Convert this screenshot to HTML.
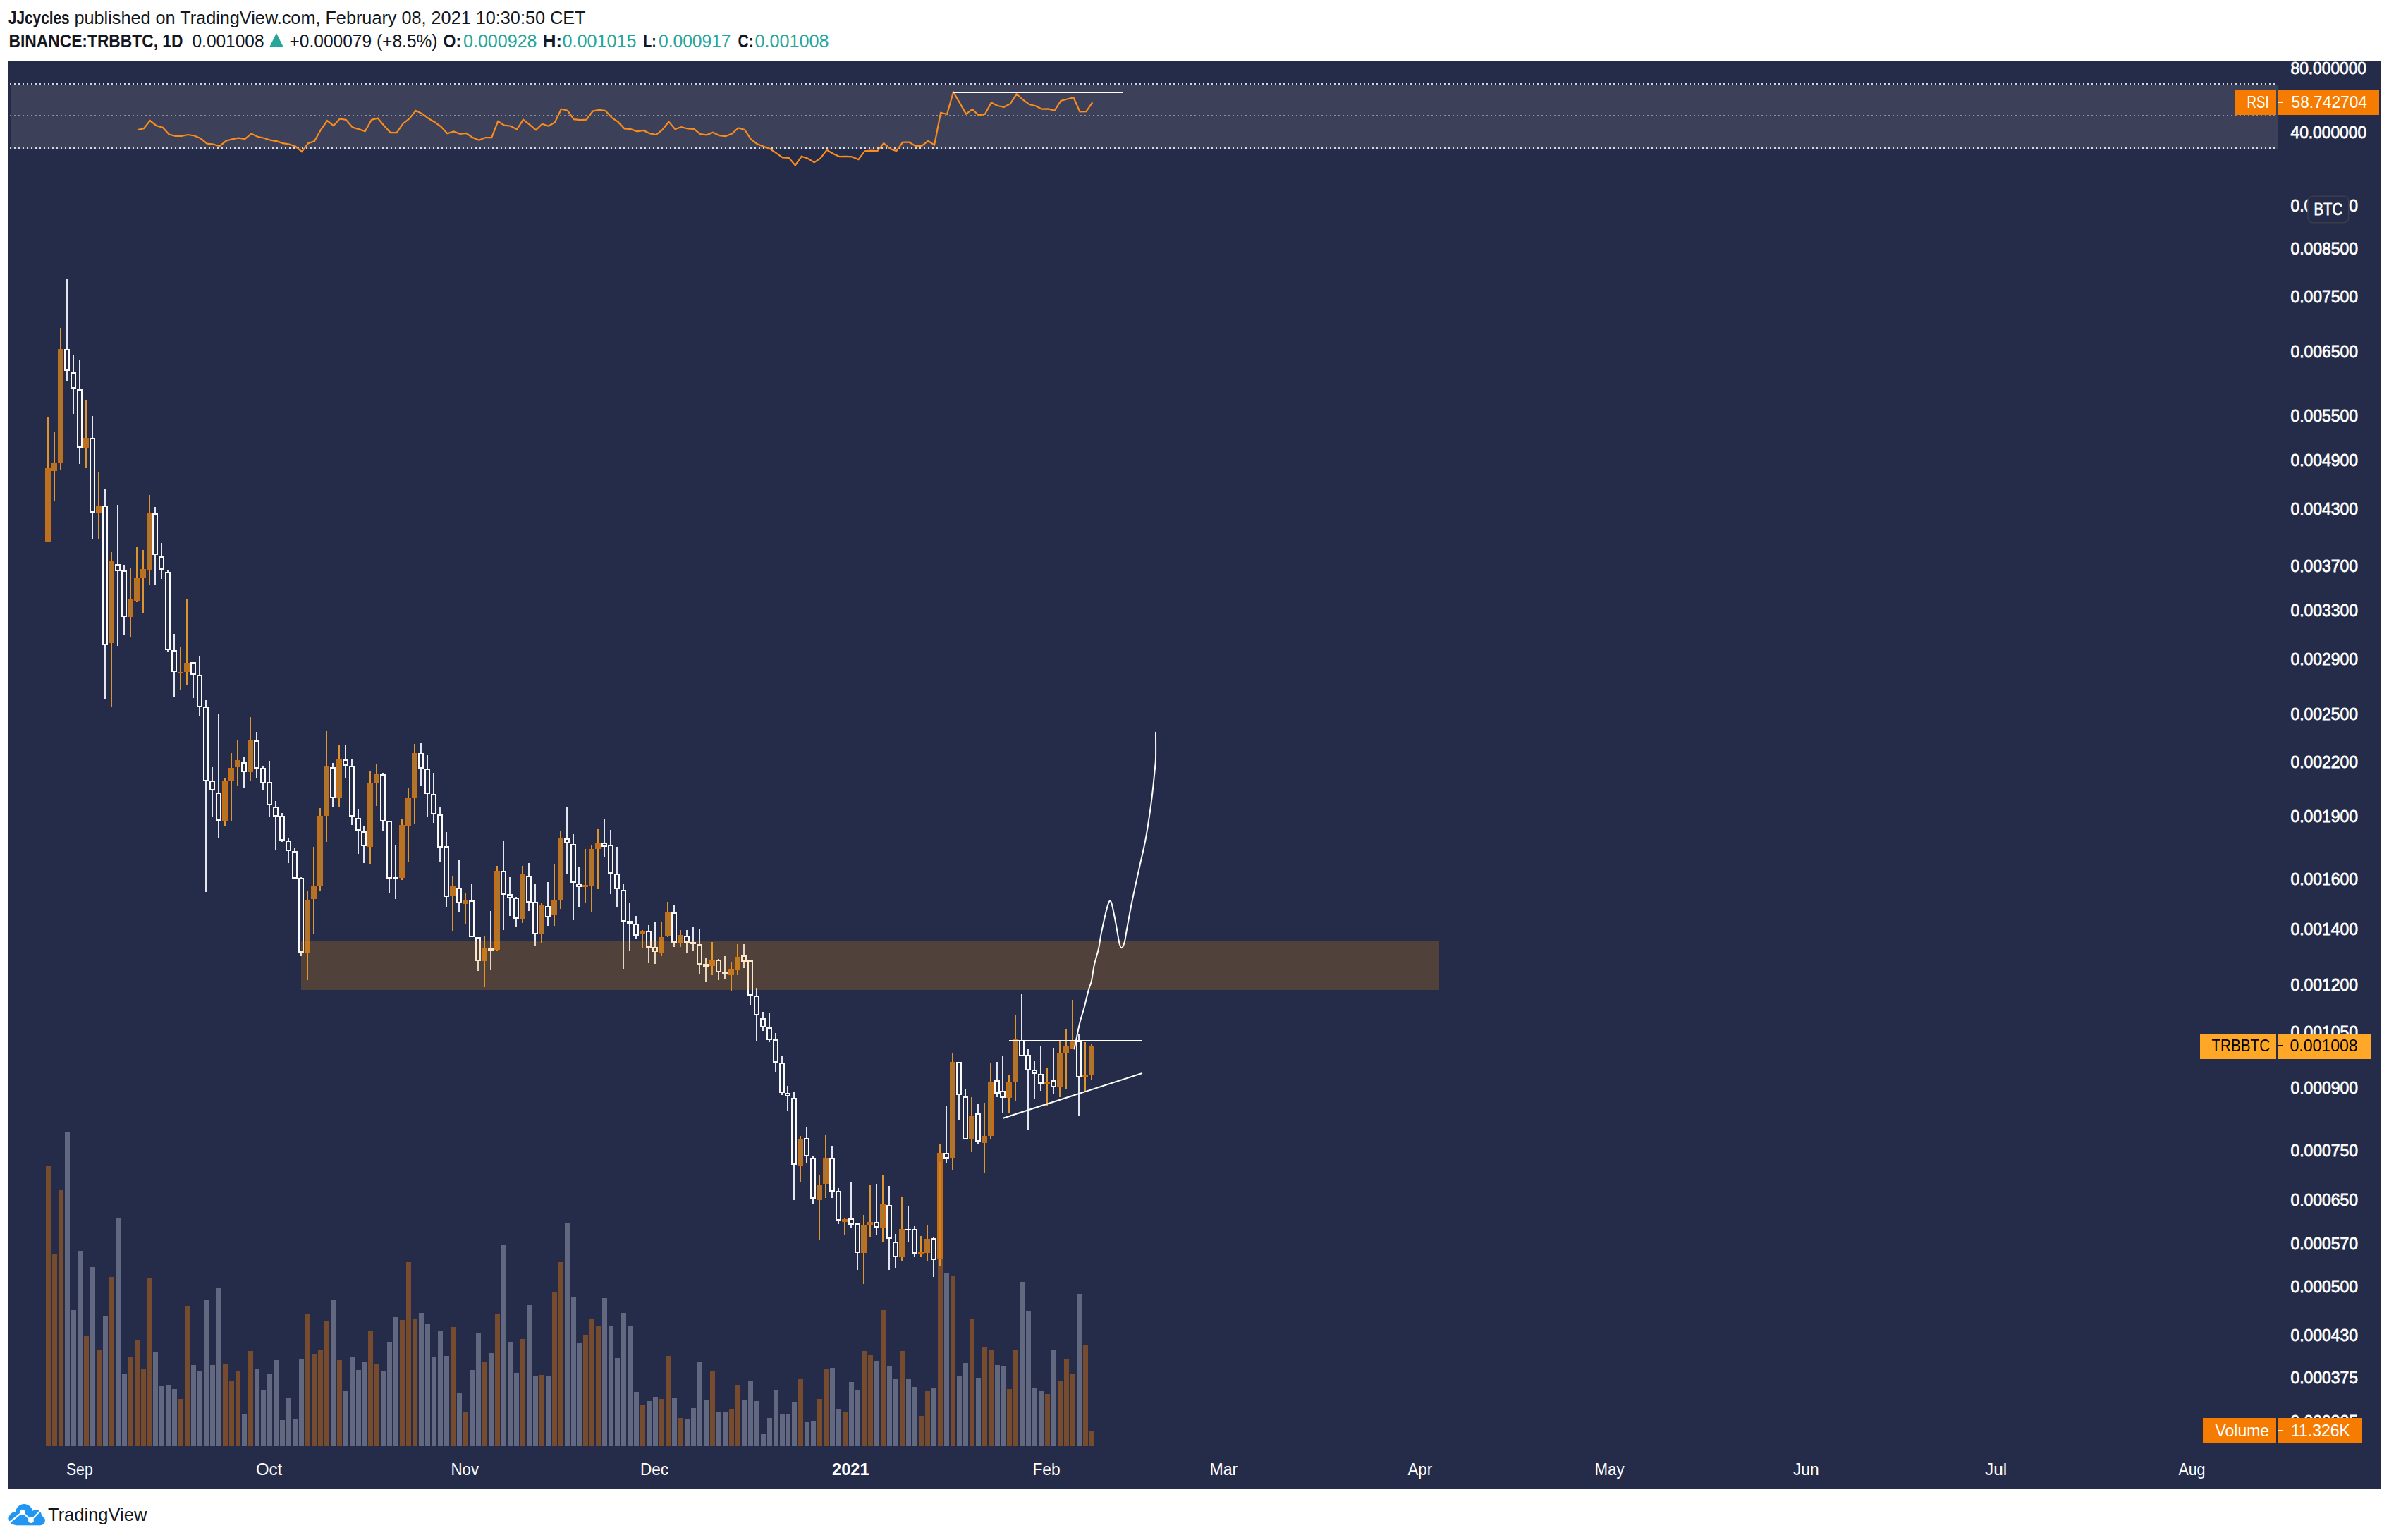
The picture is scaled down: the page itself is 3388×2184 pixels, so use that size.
<!DOCTYPE html>
<html><head><meta charset="utf-8"><title>BINANCE:TRBBTC 1D chart - JJcycles on TradingView</title>
<style>
html,body{margin:0;padding:0;background:#fff;}
body{width:3388px;height:2184px;position:relative;overflow:hidden;}
</style></head><body>
<svg width="3388" height="2184" viewBox="0 0 3388 2184" style="position:absolute;left:0;top:0"><rect x="12" y="86" width="3364" height="2026" fill="#252c49"/><rect x="15" y="120" width="3215" height="91" fill="#3c4059"/><line x1="14" y1="119" x2="3230" y2="119" stroke="#d6d8df" stroke-width="2" stroke-dasharray="2 4"/><line x1="14" y1="164" x2="3230" y2="164" stroke="#8d90a0" stroke-width="2" stroke-dasharray="2 4"/><line x1="14" y1="210" x2="3230" y2="210" stroke="#d6d8df" stroke-width="2" stroke-dasharray="2 4"/><polyline points="194.9,184.0 203.9,182.3 212.8,171.1 221.8,178.2 230.8,180.8 239.7,190.5 248.7,192.8 257.7,192.8 266.6,191.0 275.6,192.5 284.6,196.3 293.6,203.6 302.5,204.5 311.5,207.2 320.5,199.8 329.4,197.2 338.4,195.7 347.4,197.2 356.3,189.6 365.3,193.7 374.3,195.7 383.3,198.7 392.2,200.1 401.2,203.1 410.2,204.5 419.1,207.7 428.1,215.1 437.1,203.1 446.0,200.1 455.0,184.0 464.0,171.1 473.0,178.2 481.9,168.5 490.9,170.0 499.9,180.5 508.8,183.1 517.8,186.1 526.8,170.0 535.7,167.6 544.7,178.2 553.7,188.1 562.6,188.1 571.6,175.2 580.6,168.2 589.6,156.8 598.5,161.2 607.5,167.9 616.5,173.2 625.4,179.6 634.4,189.3 643.4,186.4 652.4,189.9 661.3,189.0 670.3,195.1 679.3,198.7 688.2,195.1 697.2,195.1 706.2,172.0 715.1,177.6 724.1,178.7 733.1,183.4 742.0,169.7 751.0,176.7 760.0,184.3 769.0,175.8 777.9,178.7 786.9,173.5 795.9,154.7 804.8,156.8 813.8,169.1 822.8,170.2 831.8,169.7 840.7,157.6 849.7,155.9 858.7,157.1 867.6,167.0 876.6,172.9 885.6,182.5 894.5,183.1 903.5,186.4 912.5,184.9 921.5,189.3 930.4,191.0 939.4,184.0 948.4,172.6 957.3,183.1 966.3,180.2 975.3,182.5 984.2,182.8 993.2,190.2 1002.2,191.3 1011.1,187.8 1020.1,192.2 1029.1,193.1 1038.1,189.6 1047.0,181.4 1056.0,184.0 1065.0,197.5 1073.9,204.2 1082.9,207.7 1091.9,211.0 1100.9,217.1 1109.8,223.3 1118.8,223.9 1127.8,234.4 1136.7,221.8 1145.7,224.7 1154.7,230.3 1163.6,224.4 1172.6,212.7 1181.6,218.0 1190.5,222.1 1199.5,221.8 1208.5,222.4 1217.5,226.2 1226.4,214.2 1235.4,213.6 1244.4,214.2 1253.3,203.1 1262.3,211.0 1271.3,214.2 1280.2,201.6 1289.2,201.6 1298.2,206.9 1307.2,206.9 1316.1,199.8 1325.1,205.4 1334.1,159.8 1343.0,162.0 1352.0,130.5 1361.0,145.9 1370.0,161.6 1378.9,155.0 1387.9,163.5 1396.9,161.7 1405.8,145.5 1414.8,150.0 1423.8,151.8 1432.7,147.1 1441.7,133.5 1450.7,141.5 1459.7,148.1 1468.6,150.3 1477.6,154.7 1486.6,154.4 1495.5,156.8 1504.5,143.0 1513.5,140.5 1522.4,138.2 1531.4,158.4 1540.4,158.1 1549.4,145.2" fill="none" stroke="#fa8c1c" stroke-width="2.2" stroke-linejoin="miter" stroke-miterlimit="3"/><line x1="1351" y1="131" x2="1593" y2="131" stroke="#ffffff" stroke-width="2"/><g shape-rendering="crispEdges"><rect x="65" y="1654" width="7" height="397" fill="#764b2e"/><rect x="74" y="1778" width="7" height="273" fill="#764b2e"/><rect x="83" y="1688" width="7" height="363" fill="#764b2e"/><rect x="92" y="1605" width="7" height="446" fill="#626880"/><rect x="101" y="1858" width="7" height="193" fill="#626880"/><rect x="110" y="1774" width="7" height="277" fill="#626880"/><rect x="119" y="1894" width="7" height="157" fill="#764b2e"/><rect x="128" y="1797" width="7" height="254" fill="#626880"/><rect x="137" y="1914" width="7" height="137" fill="#764b2e"/><rect x="146" y="1867" width="7" height="184" fill="#626880"/><rect x="155" y="1811" width="7" height="240" fill="#764b2e"/><rect x="164" y="1728" width="7" height="323" fill="#626880"/><rect x="173" y="1948" width="7" height="103" fill="#626880"/><rect x="182" y="1924" width="7" height="127" fill="#764b2e"/><rect x="191" y="1901" width="7" height="150" fill="#764b2e"/><rect x="200" y="1941" width="7" height="110" fill="#764b2e"/><rect x="209" y="1813" width="7" height="238" fill="#764b2e"/><rect x="217" y="1918" width="7" height="133" fill="#626880"/><rect x="226" y="1966" width="7" height="85" fill="#626880"/><rect x="235" y="1964" width="7" height="87" fill="#626880"/><rect x="244" y="1970" width="7" height="81" fill="#626880"/><rect x="253" y="1984" width="7" height="67" fill="#764b2e"/><rect x="262" y="1852" width="7" height="199" fill="#764b2e"/><rect x="271" y="1936" width="7" height="115" fill="#626880"/><rect x="280" y="1945" width="7" height="106" fill="#626880"/><rect x="289" y="1844" width="7" height="207" fill="#626880"/><rect x="298" y="1936" width="7" height="115" fill="#626880"/><rect x="307" y="1827" width="7" height="224" fill="#626880"/><rect x="316" y="1934" width="7" height="117" fill="#764b2e"/><rect x="325" y="1958" width="7" height="93" fill="#764b2e"/><rect x="334" y="1945" width="7" height="106" fill="#764b2e"/><rect x="343" y="2006" width="7" height="45" fill="#626880"/><rect x="352" y="1916" width="7" height="135" fill="#764b2e"/><rect x="361" y="1942" width="7" height="109" fill="#626880"/><rect x="370" y="1971" width="7" height="80" fill="#626880"/><rect x="379" y="1949" width="7" height="102" fill="#626880"/><rect x="388" y="1929" width="7" height="122" fill="#626880"/><rect x="397" y="2014" width="7" height="37" fill="#626880"/><rect x="406" y="1982" width="7" height="69" fill="#626880"/><rect x="415" y="2012" width="7" height="39" fill="#626880"/><rect x="424" y="1928" width="7" height="123" fill="#626880"/><rect x="433" y="1863" width="7" height="188" fill="#764b2e"/><rect x="442" y="1920" width="7" height="131" fill="#764b2e"/><rect x="451" y="1915" width="7" height="136" fill="#764b2e"/><rect x="460" y="1874" width="7" height="177" fill="#764b2e"/><rect x="469" y="1844" width="7" height="207" fill="#626880"/><rect x="478" y="1929" width="7" height="122" fill="#764b2e"/><rect x="487" y="1973" width="7" height="78" fill="#626880"/><rect x="496" y="1924" width="7" height="127" fill="#626880"/><rect x="505" y="1943" width="7" height="108" fill="#626880"/><rect x="513" y="1931" width="7" height="120" fill="#626880"/><rect x="522" y="1887" width="7" height="164" fill="#764b2e"/><rect x="531" y="1935" width="7" height="116" fill="#764b2e"/><rect x="540" y="1945" width="7" height="106" fill="#626880"/><rect x="549" y="1903" width="7" height="148" fill="#626880"/><rect x="558" y="1868" width="7" height="183" fill="#626880"/><rect x="567" y="1872" width="7" height="179" fill="#764b2e"/><rect x="576" y="1790" width="7" height="261" fill="#764b2e"/><rect x="585" y="1870" width="7" height="181" fill="#764b2e"/><rect x="594" y="1862" width="7" height="189" fill="#626880"/><rect x="603" y="1878" width="7" height="173" fill="#626880"/><rect x="612" y="1925" width="7" height="126" fill="#626880"/><rect x="621" y="1888" width="7" height="163" fill="#626880"/><rect x="630" y="1923" width="7" height="128" fill="#626880"/><rect x="639" y="1882" width="7" height="169" fill="#764b2e"/><rect x="648" y="1975" width="7" height="76" fill="#626880"/><rect x="657" y="2002" width="7" height="49" fill="#764b2e"/><rect x="666" y="1943" width="7" height="108" fill="#626880"/><rect x="675" y="1890" width="7" height="161" fill="#626880"/><rect x="684" y="1932" width="7" height="119" fill="#764b2e"/><rect x="693" y="1919" width="7" height="132" fill="#626880"/><rect x="702" y="1864" width="7" height="187" fill="#764b2e"/><rect x="711" y="1766" width="7" height="285" fill="#626880"/><rect x="720" y="1903" width="7" height="148" fill="#626880"/><rect x="729" y="1947" width="7" height="104" fill="#626880"/><rect x="738" y="1899" width="7" height="152" fill="#764b2e"/><rect x="747" y="1851" width="7" height="200" fill="#626880"/><rect x="756" y="1951" width="7" height="100" fill="#626880"/><rect x="765" y="1950" width="7" height="101" fill="#764b2e"/><rect x="774" y="1952" width="7" height="99" fill="#626880"/><rect x="783" y="1832" width="7" height="219" fill="#764b2e"/><rect x="792" y="1790" width="7" height="261" fill="#764b2e"/><rect x="801" y="1735" width="7" height="316" fill="#626880"/><rect x="810" y="1839" width="7" height="212" fill="#626880"/><rect x="818" y="1905" width="7" height="146" fill="#626880"/><rect x="827" y="1893" width="7" height="158" fill="#764b2e"/><rect x="836" y="1870" width="7" height="181" fill="#764b2e"/><rect x="845" y="1881" width="7" height="170" fill="#764b2e"/><rect x="854" y="1841" width="7" height="210" fill="#626880"/><rect x="863" y="1880" width="7" height="171" fill="#626880"/><rect x="872" y="1926" width="7" height="125" fill="#626880"/><rect x="881" y="1862" width="7" height="189" fill="#626880"/><rect x="890" y="1880" width="7" height="171" fill="#626880"/><rect x="899" y="1974" width="7" height="77" fill="#626880"/><rect x="908" y="1992" width="7" height="59" fill="#764b2e"/><rect x="917" y="1987" width="7" height="64" fill="#626880"/><rect x="926" y="1981" width="7" height="70" fill="#626880"/><rect x="935" y="1984" width="7" height="67" fill="#764b2e"/><rect x="944" y="1923" width="7" height="128" fill="#764b2e"/><rect x="953" y="1982" width="7" height="69" fill="#626880"/><rect x="962" y="2011" width="7" height="40" fill="#764b2e"/><rect x="971" y="2012" width="7" height="39" fill="#626880"/><rect x="980" y="1997" width="7" height="54" fill="#626880"/><rect x="989" y="1932" width="7" height="119" fill="#626880"/><rect x="998" y="1985" width="7" height="66" fill="#626880"/><rect x="1007" y="1944" width="7" height="107" fill="#764b2e"/><rect x="1016" y="2002" width="7" height="49" fill="#626880"/><rect x="1025" y="2002" width="7" height="49" fill="#626880"/><rect x="1034" y="1998" width="7" height="53" fill="#764b2e"/><rect x="1043" y="1964" width="7" height="87" fill="#764b2e"/><rect x="1052" y="1985" width="7" height="66" fill="#626880"/><rect x="1061" y="1958" width="7" height="93" fill="#626880"/><rect x="1070" y="1987" width="7" height="64" fill="#626880"/><rect x="1079" y="2034" width="7" height="17" fill="#626880"/><rect x="1088" y="2011" width="7" height="40" fill="#626880"/><rect x="1097" y="1971" width="7" height="80" fill="#626880"/><rect x="1106" y="2006" width="7" height="45" fill="#626880"/><rect x="1114" y="2005" width="7" height="46" fill="#626880"/><rect x="1123" y="1989" width="7" height="62" fill="#626880"/><rect x="1132" y="1956" width="7" height="95" fill="#764b2e"/><rect x="1141" y="2016" width="7" height="35" fill="#626880"/><rect x="1150" y="2015" width="7" height="36" fill="#626880"/><rect x="1159" y="1984" width="7" height="67" fill="#764b2e"/><rect x="1168" y="1942" width="7" height="109" fill="#764b2e"/><rect x="1177" y="1940" width="7" height="111" fill="#626880"/><rect x="1186" y="1998" width="7" height="53" fill="#626880"/><rect x="1195" y="2003" width="7" height="48" fill="#764b2e"/><rect x="1204" y="1960" width="7" height="91" fill="#626880"/><rect x="1213" y="1971" width="7" height="80" fill="#626880"/><rect x="1222" y="1916" width="7" height="135" fill="#764b2e"/><rect x="1231" y="1922" width="7" height="129" fill="#764b2e"/><rect x="1240" y="1930" width="7" height="121" fill="#626880"/><rect x="1249" y="1858" width="7" height="193" fill="#764b2e"/><rect x="1258" y="1937" width="7" height="114" fill="#626880"/><rect x="1267" y="1956" width="7" height="95" fill="#626880"/><rect x="1276" y="1916" width="7" height="135" fill="#764b2e"/><rect x="1285" y="1955" width="7" height="96" fill="#626880"/><rect x="1294" y="1967" width="7" height="84" fill="#626880"/><rect x="1303" y="2008" width="7" height="43" fill="#764b2e"/><rect x="1312" y="1972" width="7" height="79" fill="#764b2e"/><rect x="1321" y="1969" width="7" height="82" fill="#626880"/><rect x="1330" y="1648" width="7" height="403" fill="#764b2e"/><rect x="1339" y="1806" width="7" height="245" fill="#626880"/><rect x="1348" y="1809" width="7" height="242" fill="#764b2e"/><rect x="1357" y="1951" width="7" height="100" fill="#626880"/><rect x="1366" y="1933" width="7" height="118" fill="#626880"/><rect x="1375" y="1870" width="7" height="181" fill="#764b2e"/><rect x="1384" y="1954" width="7" height="97" fill="#626880"/><rect x="1393" y="1910" width="7" height="141" fill="#764b2e"/><rect x="1402" y="1915" width="7" height="136" fill="#764b2e"/><rect x="1411" y="1936" width="7" height="115" fill="#626880"/><rect x="1419" y="1937" width="7" height="114" fill="#626880"/><rect x="1428" y="1970" width="7" height="81" fill="#764b2e"/><rect x="1437" y="1914" width="7" height="137" fill="#764b2e"/><rect x="1446" y="1818" width="7" height="233" fill="#626880"/><rect x="1455" y="1859" width="7" height="192" fill="#626880"/><rect x="1464" y="1969" width="7" height="82" fill="#626880"/><rect x="1473" y="1973" width="7" height="78" fill="#626880"/><rect x="1482" y="1977" width="7" height="74" fill="#764b2e"/><rect x="1491" y="1915" width="7" height="136" fill="#626880"/><rect x="1500" y="1958" width="7" height="93" fill="#764b2e"/><rect x="1509" y="1927" width="7" height="124" fill="#764b2e"/><rect x="1518" y="1949" width="7" height="102" fill="#764b2e"/><rect x="1527" y="1835" width="7" height="216" fill="#626880"/><rect x="1536" y="1908" width="7" height="143" fill="#764b2e"/><rect x="1545" y="2029" width="7" height="22" fill="#764b2e"/></g><g shape-rendering="crispEdges"><rect x="67" y="591" width="2" height="73" fill="#dc952f"/><rect x="66" y="666" width="4" height="100" fill="rgba(255,167,38,0.61)"/><path d="M64 664h8v104h-8zM66 666v100h4v-100z" fill="#c96c12" fill-rule="evenodd"/><rect x="76" y="612" width="2" height="45" fill="#dc952f"/><rect x="76" y="668" width="2" height="42" fill="#dc952f"/><rect x="75" y="659" width="4" height="7" fill="rgba(255,167,38,0.61)"/><path d="M73 657h8v11h-8zM75 659v7h4v-7z" fill="#c96c12" fill-rule="evenodd"/><rect x="85" y="465" width="2" height="30" fill="#dc952f"/><rect x="85" y="656" width="2" height="10" fill="#dc952f"/><rect x="84" y="497" width="4" height="157" fill="rgba(255,167,38,0.61)"/><path d="M82 495h8v161h-8zM84 497v157h4v-157z" fill="#c96c12" fill-rule="evenodd"/><rect x="94" y="395" width="2" height="100" fill="#e3e6ee"/><rect x="94" y="526" width="2" height="15" fill="#e3e6ee"/><path d="M91 495h8v31h-8zM93 497v27h4v-27z" fill="#fafafa" fill-rule="evenodd"/><rect x="103" y="503" width="2" height="25" fill="#e3e6ee"/><rect x="103" y="551" width="2" height="36" fill="#e3e6ee"/><path d="M100 528h8v23h-8zM102 530v19h4v-19z" fill="#fafafa" fill-rule="evenodd"/><rect x="112" y="510" width="2" height="42" fill="#e3e6ee"/><rect x="112" y="635" width="2" height="23" fill="#e3e6ee"/><path d="M109 552h8v83h-8zM111 554v79h4v-79z" fill="#fafafa" fill-rule="evenodd"/><rect x="121" y="567" width="2" height="54" fill="#dc952f"/><rect x="121" y="635" width="2" height="28" fill="#dc952f"/><rect x="120" y="623" width="4" height="10" fill="rgba(255,167,38,0.61)"/><path d="M118 621h8v14h-8zM120 623v10h4v-10z" fill="#c96c12" fill-rule="evenodd"/><rect x="130" y="590" width="2" height="31" fill="#e3e6ee"/><rect x="130" y="727" width="2" height="38" fill="#e3e6ee"/><path d="M127 621h8v106h-8zM129 623v102h4v-102z" fill="#fafafa" fill-rule="evenodd"/><rect x="139" y="669" width="2" height="48" fill="#dc952f"/><rect x="139" y="727" width="2" height="38" fill="#dc952f"/><rect x="138" y="719" width="4" height="6" fill="rgba(255,167,38,0.61)"/><path d="M136 717h8v10h-8zM138 719v6h4v-6z" fill="#c96c12" fill-rule="evenodd"/><rect x="148" y="694" width="2" height="23" fill="#e3e6ee"/><rect x="148" y="915" width="2" height="77" fill="#e3e6ee"/><path d="M145 717h8v198h-8zM147 719v194h4v-194z" fill="#fafafa" fill-rule="evenodd"/><rect x="157" y="783" width="2" height="13" fill="#dc952f"/><rect x="157" y="912" width="2" height="91" fill="#dc952f"/><rect x="156" y="798" width="4" height="112" fill="rgba(255,167,38,0.61)"/><path d="M154 796h8v116h-8zM156 798v112h4v-112z" fill="#c96c12" fill-rule="evenodd"/><rect x="166" y="716" width="2" height="84" fill="#e3e6ee"/><rect x="166" y="810" width="2" height="106" fill="#e3e6ee"/><path d="M163 800h8v10h-8zM165 802v6h4v-6z" fill="#fafafa" fill-rule="evenodd"/><rect x="175" y="801" width="2" height="8" fill="#e3e6ee"/><rect x="175" y="875" width="2" height="25" fill="#e3e6ee"/><path d="M172 809h8v66h-8zM174 811v62h4v-62z" fill="#fafafa" fill-rule="evenodd"/><rect x="184" y="805" width="2" height="45" fill="#dc952f"/><rect x="184" y="875" width="2" height="29" fill="#dc952f"/><rect x="183" y="852" width="4" height="21" fill="rgba(255,167,38,0.61)"/><path d="M181 850h8v25h-8zM183 852v21h4v-21z" fill="#c96c12" fill-rule="evenodd"/><rect x="193" y="776" width="2" height="44" fill="#dc952f"/><rect x="193" y="852" width="2" height="2" fill="#dc952f"/><rect x="192" y="822" width="4" height="28" fill="rgba(255,167,38,0.61)"/><path d="M190 820h8v32h-8zM192 822v28h4v-28z" fill="#c96c12" fill-rule="evenodd"/><rect x="202" y="780" width="2" height="27" fill="#dc952f"/><rect x="202" y="820" width="2" height="49" fill="#dc952f"/><rect x="201" y="809" width="4" height="9" fill="rgba(255,167,38,0.61)"/><path d="M199 807h8v13h-8zM201 809v9h4v-9z" fill="#c96c12" fill-rule="evenodd"/><rect x="211" y="702" width="2" height="26" fill="#dc952f"/><rect x="211" y="808" width="2" height="22" fill="#dc952f"/><rect x="210" y="730" width="4" height="76" fill="rgba(255,167,38,0.61)"/><path d="M208 728h8v80h-8zM210 730v76h4v-76z" fill="#c96c12" fill-rule="evenodd"/><rect x="219" y="719" width="2" height="9" fill="#e3e6ee"/><rect x="219" y="787" width="2" height="43" fill="#e3e6ee"/><path d="M216 728h8v59h-8zM218 730v55h4v-55z" fill="#fafafa" fill-rule="evenodd"/><rect x="228" y="770" width="2" height="19" fill="#e3e6ee"/><rect x="228" y="808" width="2" height="13" fill="#e3e6ee"/><path d="M225 789h8v19h-8zM227 791v15h4v-15z" fill="#fafafa" fill-rule="evenodd"/><rect x="237" y="809" width="2" height="2" fill="#e3e6ee"/><rect x="237" y="922" width="2" height="2" fill="#e3e6ee"/><path d="M234 811h8v111h-8zM236 813v107h4v-107z" fill="#fafafa" fill-rule="evenodd"/><rect x="246" y="899" width="2" height="23" fill="#e3e6ee"/><rect x="246" y="953" width="2" height="35" fill="#e3e6ee"/><path d="M243 922h8v31h-8zM245 924v27h4v-27z" fill="#fafafa" fill-rule="evenodd"/><rect x="255" y="918" width="2" height="35" fill="#dc952f"/><rect x="255" y="955" width="2" height="23" fill="#dc952f"/><rect x="252" y="953" width="8" height="2" fill="#c96c12"/><rect x="264" y="850" width="2" height="90" fill="#dc952f"/><rect x="264" y="953" width="2" height="19" fill="#dc952f"/><rect x="263" y="942" width="4" height="9" fill="rgba(255,167,38,0.61)"/><path d="M261 940h8v13h-8zM263 942v9h4v-9z" fill="#c96c12" fill-rule="evenodd"/><rect x="273" y="957" width="2" height="33" fill="#e3e6ee"/><path d="M270 939h8v18h-8zM272 941v14h4v-14z" fill="#fafafa" fill-rule="evenodd"/><rect x="282" y="931" width="2" height="26" fill="#e3e6ee"/><rect x="282" y="1003" width="2" height="13" fill="#e3e6ee"/><path d="M279 957h8v46h-8zM281 959v42h4v-42z" fill="#fafafa" fill-rule="evenodd"/><rect x="291" y="993" width="2" height="9" fill="#e3e6ee"/><rect x="291" y="1108" width="2" height="157" fill="#e3e6ee"/><path d="M288 1002h8v106h-8zM290 1004v102h4v-102z" fill="#fafafa" fill-rule="evenodd"/><rect x="300" y="1088" width="2" height="19" fill="#e3e6ee"/><rect x="300" y="1121" width="2" height="37" fill="#e3e6ee"/><path d="M297 1107h8v14h-8zM299 1109v10h4v-10z" fill="#fafafa" fill-rule="evenodd"/><rect x="309" y="1012" width="2" height="112" fill="#e3e6ee"/><rect x="309" y="1164" width="2" height="24" fill="#e3e6ee"/><path d="M306 1124h8v40h-8zM308 1126v36h4v-36z" fill="#fafafa" fill-rule="evenodd"/><rect x="318" y="1103" width="2" height="5" fill="#dc952f"/><rect x="318" y="1165" width="2" height="7" fill="#dc952f"/><rect x="317" y="1110" width="4" height="53" fill="rgba(255,167,38,0.61)"/><path d="M315 1108h8v57h-8zM317 1110v53h4v-53z" fill="#c96c12" fill-rule="evenodd"/><rect x="327" y="1068" width="2" height="21" fill="#dc952f"/><rect x="327" y="1107" width="2" height="57" fill="#dc952f"/><rect x="326" y="1091" width="4" height="14" fill="rgba(255,167,38,0.61)"/><path d="M324 1089h8v18h-8zM326 1091v14h4v-14z" fill="#c96c12" fill-rule="evenodd"/><rect x="336" y="1050" width="2" height="28" fill="#dc952f"/><rect x="336" y="1088" width="2" height="27" fill="#dc952f"/><rect x="335" y="1080" width="4" height="6" fill="rgba(255,167,38,0.61)"/><path d="M333 1078h8v10h-8zM335 1080v6h4v-6z" fill="#c96c12" fill-rule="evenodd"/><rect x="345" y="1073" width="2" height="8" fill="#e3e6ee"/><rect x="345" y="1095" width="2" height="23" fill="#e3e6ee"/><path d="M342 1081h8v14h-8zM344 1083v10h4v-10z" fill="#fafafa" fill-rule="evenodd"/><rect x="354" y="1017" width="2" height="32" fill="#dc952f"/><rect x="354" y="1095" width="2" height="12" fill="#dc952f"/><rect x="353" y="1051" width="4" height="42" fill="rgba(255,167,38,0.61)"/><path d="M351 1049h8v46h-8zM353 1051v42h4v-42z" fill="#c96c12" fill-rule="evenodd"/><rect x="363" y="1038" width="2" height="12" fill="#e3e6ee"/><rect x="363" y="1090" width="2" height="14" fill="#e3e6ee"/><path d="M360 1050h8v40h-8zM362 1052v36h4v-36z" fill="#fafafa" fill-rule="evenodd"/><rect x="372" y="1087" width="2" height="2" fill="#e3e6ee"/><rect x="372" y="1111" width="2" height="10" fill="#e3e6ee"/><path d="M369 1089h8v22h-8zM371 1091v18h4v-18z" fill="#fafafa" fill-rule="evenodd"/><rect x="381" y="1079" width="2" height="30" fill="#e3e6ee"/><rect x="381" y="1142" width="2" height="17" fill="#e3e6ee"/><path d="M378 1109h8v33h-8zM380 1111v29h4v-29z" fill="#fafafa" fill-rule="evenodd"/><rect x="390" y="1136" width="2" height="8" fill="#e3e6ee"/><rect x="390" y="1158" width="2" height="47" fill="#e3e6ee"/><path d="M387 1144h8v14h-8zM389 1146v10h4v-10z" fill="#fafafa" fill-rule="evenodd"/><rect x="399" y="1153" width="2" height="4" fill="#e3e6ee"/><rect x="399" y="1192" width="2" height="2" fill="#e3e6ee"/><path d="M396 1157h8v35h-8zM398 1159v31h4v-31z" fill="#fafafa" fill-rule="evenodd"/><rect x="408" y="1189" width="2" height="3" fill="#e3e6ee"/><rect x="408" y="1207" width="2" height="17" fill="#e3e6ee"/><path d="M405 1192h8v15h-8zM407 1194v11h4v-11z" fill="#fafafa" fill-rule="evenodd"/><rect x="417" y="1202" width="2" height="5" fill="#e3e6ee"/><path d="M414 1207h8v39h-8zM416 1209v35h4v-35z" fill="#fafafa" fill-rule="evenodd"/><rect x="426" y="1244" width="2" height="1" fill="#e3e6ee"/><rect x="426" y="1351" width="2" height="5" fill="#e3e6ee"/><path d="M423 1245h8v106h-8zM425 1247v102h4v-102z" fill="#fafafa" fill-rule="evenodd"/><rect x="435" y="1263" width="2" height="13" fill="#dc952f"/><rect x="435" y="1351" width="2" height="39" fill="#dc952f"/><rect x="434" y="1278" width="4" height="71" fill="rgba(255,167,38,0.61)"/><path d="M432 1276h8v75h-8zM434 1278v71h4v-71z" fill="#c96c12" fill-rule="evenodd"/><rect x="444" y="1201" width="2" height="56" fill="#dc952f"/><rect x="444" y="1275" width="2" height="49" fill="#dc952f"/><rect x="443" y="1259" width="4" height="14" fill="rgba(255,167,38,0.61)"/><path d="M441 1257h8v18h-8zM443 1259v14h4v-14z" fill="#c96c12" fill-rule="evenodd"/><rect x="453" y="1146" width="2" height="11" fill="#dc952f"/><rect x="453" y="1257" width="2" height="7" fill="#dc952f"/><rect x="452" y="1159" width="4" height="96" fill="rgba(255,167,38,0.61)"/><path d="M450 1157h8v100h-8zM452 1159v96h4v-96z" fill="#c96c12" fill-rule="evenodd"/><rect x="462" y="1037" width="2" height="49" fill="#dc952f"/><rect x="462" y="1157" width="2" height="37" fill="#dc952f"/><rect x="461" y="1088" width="4" height="67" fill="rgba(255,167,38,0.61)"/><path d="M459 1086h8v71h-8zM461 1088v67h4v-67z" fill="#c96c12" fill-rule="evenodd"/><rect x="471" y="1082" width="2" height="6" fill="#e3e6ee"/><rect x="471" y="1132" width="2" height="13" fill="#e3e6ee"/><path d="M468 1088h8v44h-8zM470 1090v40h4v-40z" fill="#fafafa" fill-rule="evenodd"/><rect x="480" y="1057" width="2" height="20" fill="#dc952f"/><rect x="480" y="1132" width="2" height="12" fill="#dc952f"/><rect x="479" y="1079" width="4" height="51" fill="rgba(255,167,38,0.61)"/><path d="M477 1077h8v55h-8zM479 1079v51h4v-51z" fill="#c96c12" fill-rule="evenodd"/><rect x="489" y="1056" width="2" height="21" fill="#e3e6ee"/><rect x="489" y="1086" width="2" height="17" fill="#e3e6ee"/><path d="M486 1077h8v9h-8zM488 1079v5h4v-5z" fill="#fafafa" fill-rule="evenodd"/><rect x="498" y="1076" width="2" height="10" fill="#e3e6ee"/><rect x="498" y="1158" width="2" height="12" fill="#e3e6ee"/><path d="M495 1086h8v72h-8zM497 1088v68h4v-68z" fill="#fafafa" fill-rule="evenodd"/><rect x="507" y="1148" width="2" height="12" fill="#e3e6ee"/><rect x="507" y="1178" width="2" height="33" fill="#e3e6ee"/><path d="M504 1160h8v18h-8zM506 1162v14h4v-14z" fill="#fafafa" fill-rule="evenodd"/><rect x="515" y="1171" width="2" height="8" fill="#e3e6ee"/><rect x="515" y="1200" width="2" height="24" fill="#e3e6ee"/><path d="M512 1179h8v21h-8zM514 1181v17h4v-17z" fill="#fafafa" fill-rule="evenodd"/><rect x="524" y="1093" width="2" height="17" fill="#dc952f"/><rect x="524" y="1201" width="2" height="24" fill="#dc952f"/><rect x="523" y="1112" width="4" height="87" fill="rgba(255,167,38,0.61)"/><path d="M521 1110h8v91h-8zM523 1112v87h4v-87z" fill="#c96c12" fill-rule="evenodd"/><rect x="533" y="1083" width="2" height="14" fill="#dc952f"/><rect x="533" y="1111" width="2" height="32" fill="#dc952f"/><rect x="532" y="1099" width="4" height="10" fill="rgba(255,167,38,0.61)"/><path d="M530 1097h8v14h-8zM532 1099v10h4v-10z" fill="#c96c12" fill-rule="evenodd"/><rect x="542" y="1096" width="2" height="2" fill="#e3e6ee"/><rect x="542" y="1165" width="2" height="14" fill="#e3e6ee"/><path d="M539 1098h8v67h-8zM541 1100v63h4v-63z" fill="#fafafa" fill-rule="evenodd"/><rect x="551" y="1246" width="2" height="20" fill="#e3e6ee"/><path d="M548 1164h8v82h-8zM550 1166v78h4v-78z" fill="#fafafa" fill-rule="evenodd"/><rect x="560" y="1199" width="2" height="45" fill="#e3e6ee"/><rect x="560" y="1246" width="2" height="29" fill="#e3e6ee"/><rect x="557" y="1244" width="8" height="2" fill="#fafafa"/><rect x="569" y="1161" width="2" height="9" fill="#dc952f"/><rect x="569" y="1245" width="2" height="3" fill="#dc952f"/><rect x="568" y="1172" width="4" height="71" fill="rgba(255,167,38,0.61)"/><path d="M566 1170h8v75h-8zM568 1172v71h4v-71z" fill="#c96c12" fill-rule="evenodd"/><rect x="578" y="1117" width="2" height="14" fill="#dc952f"/><rect x="578" y="1171" width="2" height="51" fill="#dc952f"/><rect x="577" y="1133" width="4" height="36" fill="rgba(255,167,38,0.61)"/><path d="M575 1131h8v40h-8zM577 1133v36h4v-36z" fill="#c96c12" fill-rule="evenodd"/><rect x="587" y="1055" width="2" height="13" fill="#dc952f"/><rect x="587" y="1131" width="2" height="37" fill="#dc952f"/><rect x="586" y="1070" width="4" height="59" fill="rgba(255,167,38,0.61)"/><path d="M584 1068h8v63h-8zM586 1070v59h4v-59z" fill="#c96c12" fill-rule="evenodd"/><rect x="596" y="1054" width="2" height="14" fill="#e3e6ee"/><rect x="596" y="1090" width="2" height="24" fill="#e3e6ee"/><path d="M593 1068h8v22h-8zM595 1070v18h4v-18z" fill="#fafafa" fill-rule="evenodd"/><rect x="605" y="1071" width="2" height="19" fill="#e3e6ee"/><rect x="605" y="1126" width="2" height="33" fill="#e3e6ee"/><path d="M602 1090h8v36h-8zM604 1092v32h4v-32z" fill="#fafafa" fill-rule="evenodd"/><rect x="614" y="1096" width="2" height="30" fill="#e3e6ee"/><rect x="614" y="1155" width="2" height="12" fill="#e3e6ee"/><path d="M611 1126h8v29h-8zM613 1128v25h4v-25z" fill="#fafafa" fill-rule="evenodd"/><rect x="623" y="1144" width="2" height="11" fill="#e3e6ee"/><rect x="623" y="1202" width="2" height="21" fill="#e3e6ee"/><path d="M620 1155h8v47h-8zM622 1157v43h4v-43z" fill="#fafafa" fill-rule="evenodd"/><rect x="632" y="1180" width="2" height="20" fill="#e3e6ee"/><rect x="632" y="1272" width="2" height="14" fill="#e3e6ee"/><path d="M629 1200h8v72h-8zM631 1202v68h4v-68z" fill="#fafafa" fill-rule="evenodd"/><rect x="641" y="1242" width="2" height="15" fill="#dc952f"/><rect x="641" y="1271" width="2" height="50" fill="#dc952f"/><rect x="640" y="1259" width="4" height="10" fill="rgba(255,167,38,0.61)"/><path d="M638 1257h8v14h-8zM640 1259v10h4v-10z" fill="#c96c12" fill-rule="evenodd"/><rect x="650" y="1219" width="2" height="40" fill="#e3e6ee"/><rect x="650" y="1281" width="2" height="12" fill="#e3e6ee"/><path d="M647 1259h8v22h-8zM649 1261v18h4v-18z" fill="#fafafa" fill-rule="evenodd"/><rect x="659" y="1267" width="2" height="10" fill="#dc952f"/><rect x="659" y="1282" width="2" height="28" fill="#dc952f"/><rect x="658" y="1279" width="4" height="1" fill="rgba(255,167,38,0.61)"/><path d="M656 1277h8v5h-8zM658 1279v1h4v-1z" fill="#c96c12" fill-rule="evenodd"/><rect x="668" y="1254" width="2" height="23" fill="#e3e6ee"/><path d="M665 1277h8v52h-8zM667 1279v48h4v-48z" fill="#fafafa" fill-rule="evenodd"/><rect x="677" y="1363" width="2" height="14" fill="#e3e6ee"/><path d="M674 1329h8v34h-8zM676 1331v30h4v-30z" fill="#fafafa" fill-rule="evenodd"/><rect x="686" y="1327" width="2" height="18" fill="#dc952f"/><rect x="686" y="1363" width="2" height="37" fill="#dc952f"/><rect x="685" y="1347" width="4" height="14" fill="rgba(255,167,38,0.61)"/><path d="M683 1345h8v18h-8zM685 1347v14h4v-14z" fill="#c96c12" fill-rule="evenodd"/><rect x="695" y="1292" width="2" height="52" fill="#e3e6ee"/><rect x="695" y="1348" width="2" height="28" fill="#e3e6ee"/><rect x="692" y="1344" width="8" height="4" fill="#fafafa"/><rect x="704" y="1228" width="2" height="7" fill="#dc952f"/><rect x="704" y="1347" width="2" height="2" fill="#dc952f"/><rect x="703" y="1237" width="4" height="108" fill="rgba(255,167,38,0.61)"/><path d="M701 1235h8v112h-8zM703 1237v108h4v-108z" fill="#c96c12" fill-rule="evenodd"/><rect x="713" y="1192" width="2" height="43" fill="#e3e6ee"/><rect x="713" y="1269" width="2" height="50" fill="#e3e6ee"/><path d="M710 1235h8v34h-8zM712 1237v30h4v-30z" fill="#fafafa" fill-rule="evenodd"/><rect x="722" y="1244" width="2" height="24" fill="#e3e6ee"/><rect x="722" y="1274" width="2" height="25" fill="#e3e6ee"/><path d="M719 1268h8v6h-8zM721 1270v2h4v-2z" fill="#fafafa" fill-rule="evenodd"/><rect x="731" y="1272" width="2" height="1" fill="#e3e6ee"/><rect x="731" y="1303" width="2" height="11" fill="#e3e6ee"/><path d="M728 1273h8v30h-8zM730 1275v26h4v-26z" fill="#fafafa" fill-rule="evenodd"/><rect x="740" y="1228" width="2" height="12" fill="#dc952f"/><rect x="740" y="1304" width="2" height="5" fill="#dc952f"/><rect x="739" y="1242" width="4" height="60" fill="rgba(255,167,38,0.61)"/><path d="M737 1240h8v64h-8zM739 1242v60h4v-60z" fill="#c96c12" fill-rule="evenodd"/><rect x="749" y="1224" width="2" height="18" fill="#e3e6ee"/><rect x="749" y="1280" width="2" height="12" fill="#e3e6ee"/><path d="M746 1242h8v38h-8zM748 1244v34h4v-34z" fill="#fafafa" fill-rule="evenodd"/><rect x="758" y="1253" width="2" height="26" fill="#e3e6ee"/><rect x="758" y="1325" width="2" height="16" fill="#e3e6ee"/><path d="M755 1279h8v46h-8zM757 1281v42h4v-42z" fill="#fafafa" fill-rule="evenodd"/><rect x="767" y="1281" width="2" height="3" fill="#dc952f"/><rect x="767" y="1325" width="2" height="12" fill="#dc952f"/><rect x="766" y="1286" width="4" height="37" fill="rgba(255,167,38,0.61)"/><path d="M764 1284h8v41h-8zM766 1286v37h4v-37z" fill="#c96c12" fill-rule="evenodd"/><rect x="776" y="1251" width="2" height="34" fill="#e3e6ee"/><rect x="776" y="1301" width="2" height="12" fill="#e3e6ee"/><path d="M773 1285h8v16h-8zM775 1287v12h4v-12z" fill="#fafafa" fill-rule="evenodd"/><rect x="785" y="1225" width="2" height="52" fill="#dc952f"/><rect x="785" y="1298" width="2" height="15" fill="#dc952f"/><rect x="784" y="1279" width="4" height="17" fill="rgba(255,167,38,0.61)"/><path d="M782 1277h8v21h-8zM784 1279v17h4v-17z" fill="#c96c12" fill-rule="evenodd"/><rect x="794" y="1179" width="2" height="9" fill="#dc952f"/><rect x="794" y="1277" width="2" height="12" fill="#dc952f"/><rect x="793" y="1190" width="4" height="85" fill="rgba(255,167,38,0.61)"/><path d="M791 1188h8v89h-8zM793 1190v85h4v-85z" fill="#c96c12" fill-rule="evenodd"/><rect x="803" y="1144" width="2" height="45" fill="#e3e6ee"/><rect x="803" y="1196" width="2" height="43" fill="#e3e6ee"/><path d="M800 1189h8v7h-8zM802 1191v3h4v-3z" fill="#fafafa" fill-rule="evenodd"/><rect x="812" y="1183" width="2" height="14" fill="#e3e6ee"/><rect x="812" y="1252" width="2" height="53" fill="#e3e6ee"/><path d="M809 1197h8v55h-8zM811 1199v51h4v-51z" fill="#fafafa" fill-rule="evenodd"/><rect x="820" y="1229" width="2" height="24" fill="#e3e6ee"/><rect x="820" y="1258" width="2" height="28" fill="#e3e6ee"/><path d="M817 1253h8v5h-8zM819 1255v1h4v-1z" fill="#fafafa" fill-rule="evenodd"/><rect x="829" y="1204" width="2" height="51" fill="#dc952f"/><rect x="829" y="1258" width="2" height="22" fill="#dc952f"/><rect x="826" y="1255" width="8" height="3" fill="#c96c12"/><rect x="838" y="1199" width="2" height="5" fill="#dc952f"/><rect x="838" y="1257" width="2" height="37" fill="#dc952f"/><rect x="837" y="1206" width="4" height="49" fill="rgba(255,167,38,0.61)"/><path d="M835 1204h8v53h-8zM837 1206v49h4v-49z" fill="#c96c12" fill-rule="evenodd"/><rect x="847" y="1176" width="2" height="20" fill="#dc952f"/><rect x="847" y="1204" width="2" height="57" fill="#dc952f"/><rect x="846" y="1198" width="4" height="4" fill="rgba(255,167,38,0.61)"/><path d="M844 1196h8v8h-8zM846 1198v4h4v-4z" fill="#c96c12" fill-rule="evenodd"/><rect x="856" y="1161" width="2" height="34" fill="#e3e6ee"/><rect x="856" y="1201" width="2" height="15" fill="#e3e6ee"/><path d="M853 1195h8v6h-8zM855 1197v2h4v-2z" fill="#fafafa" fill-rule="evenodd"/><rect x="865" y="1177" width="2" height="21" fill="#e3e6ee"/><rect x="865" y="1239" width="2" height="29" fill="#e3e6ee"/><path d="M862 1198h8v41h-8zM864 1200v37h4v-37z" fill="#fafafa" fill-rule="evenodd"/><rect x="874" y="1201" width="2" height="38" fill="#e3e6ee"/><rect x="874" y="1261" width="2" height="26" fill="#e3e6ee"/><path d="M871 1239h8v22h-8zM873 1241v18h4v-18z" fill="#fafafa" fill-rule="evenodd"/><rect x="883" y="1254" width="2" height="8" fill="#e3e6ee"/><rect x="883" y="1307" width="2" height="67" fill="#e3e6ee"/><path d="M880 1262h8v45h-8zM882 1264v41h4v-41z" fill="#fafafa" fill-rule="evenodd"/><rect x="892" y="1281" width="2" height="25" fill="#e3e6ee"/><rect x="892" y="1310" width="2" height="39" fill="#e3e6ee"/><rect x="889" y="1306" width="8" height="4" fill="#fafafa"/><rect x="901" y="1299" width="2" height="11" fill="#e3e6ee"/><rect x="901" y="1327" width="2" height="5" fill="#e3e6ee"/><path d="M898 1310h8v17h-8zM900 1312v13h4v-13z" fill="#fafafa" fill-rule="evenodd"/><rect x="910" y="1319" width="2" height="2" fill="#dc952f"/><rect x="910" y="1325" width="2" height="20" fill="#dc952f"/><rect x="907" y="1321" width="8" height="4" fill="#c96c12"/><rect x="919" y="1312" width="2" height="8" fill="#e3e6ee"/><rect x="919" y="1344" width="2" height="22" fill="#e3e6ee"/><path d="M916 1320h8v24h-8zM918 1322v20h4v-20z" fill="#fafafa" fill-rule="evenodd"/><rect x="928" y="1308" width="2" height="35" fill="#e3e6ee"/><rect x="928" y="1350" width="2" height="17" fill="#e3e6ee"/><path d="M925 1343h8v7h-8zM927 1345v3h4v-3z" fill="#fafafa" fill-rule="evenodd"/><rect x="937" y="1307" width="2" height="22" fill="#dc952f"/><rect x="937" y="1351" width="2" height="5" fill="#dc952f"/><rect x="936" y="1331" width="4" height="18" fill="rgba(255,167,38,0.61)"/><path d="M934 1329h8v22h-8zM936 1331v18h4v-18z" fill="#c96c12" fill-rule="evenodd"/><rect x="946" y="1279" width="2" height="15" fill="#dc952f"/><rect x="946" y="1328" width="2" height="1" fill="#dc952f"/><rect x="945" y="1296" width="4" height="30" fill="rgba(255,167,38,0.61)"/><path d="M943 1294h8v34h-8zM945 1296v30h4v-30z" fill="#c96c12" fill-rule="evenodd"/><rect x="955" y="1283" width="2" height="11" fill="#e3e6ee"/><rect x="955" y="1337" width="2" height="6" fill="#e3e6ee"/><path d="M952 1294h8v43h-8zM954 1296v39h4v-39z" fill="#fafafa" fill-rule="evenodd"/><rect x="964" y="1319" width="2" height="7" fill="#dc952f"/><rect x="964" y="1338" width="2" height="5" fill="#dc952f"/><rect x="963" y="1328" width="4" height="8" fill="rgba(255,167,38,0.61)"/><path d="M961 1326h8v12h-8zM963 1328v8h4v-8z" fill="#c96c12" fill-rule="evenodd"/><rect x="973" y="1319" width="2" height="8" fill="#e3e6ee"/><rect x="973" y="1337" width="2" height="15" fill="#e3e6ee"/><path d="M970 1327h8v10h-8zM972 1329v6h4v-6z" fill="#fafafa" fill-rule="evenodd"/><rect x="982" y="1315" width="2" height="21" fill="#e3e6ee"/><rect x="982" y="1339" width="2" height="10" fill="#e3e6ee"/><rect x="979" y="1336" width="8" height="3" fill="#fafafa"/><rect x="991" y="1317" width="2" height="22" fill="#e3e6ee"/><rect x="991" y="1368" width="2" height="14" fill="#e3e6ee"/><path d="M988 1339h8v29h-8zM990 1341v25h4v-25z" fill="#fafafa" fill-rule="evenodd"/><rect x="1000" y="1358" width="2" height="9" fill="#e3e6ee"/><rect x="1000" y="1371" width="2" height="21" fill="#e3e6ee"/><rect x="997" y="1367" width="8" height="4" fill="#fafafa"/><rect x="1009" y="1336" width="2" height="25" fill="#dc952f"/><rect x="1009" y="1370" width="2" height="13" fill="#dc952f"/><rect x="1008" y="1363" width="4" height="5" fill="rgba(255,167,38,0.61)"/><path d="M1006 1361h8v9h-8zM1008 1363v5h4v-5z" fill="#c96c12" fill-rule="evenodd"/><rect x="1018" y="1360" width="2" height="1" fill="#e3e6ee"/><rect x="1018" y="1379" width="2" height="11" fill="#e3e6ee"/><path d="M1015 1361h8v18h-8zM1017 1363v14h4v-14z" fill="#fafafa" fill-rule="evenodd"/><rect x="1027" y="1356" width="2" height="22" fill="#e3e6ee"/><rect x="1027" y="1382" width="2" height="7" fill="#e3e6ee"/><rect x="1024" y="1378" width="8" height="4" fill="#fafafa"/><rect x="1036" y="1365" width="2" height="9" fill="#dc952f"/><rect x="1036" y="1383" width="2" height="23" fill="#dc952f"/><rect x="1035" y="1376" width="4" height="5" fill="rgba(255,167,38,0.61)"/><path d="M1033 1374h8v9h-8zM1035 1376v5h4v-5z" fill="#c96c12" fill-rule="evenodd"/><rect x="1045" y="1339" width="2" height="18" fill="#dc952f"/><rect x="1045" y="1375" width="2" height="8" fill="#dc952f"/><rect x="1044" y="1359" width="4" height="14" fill="rgba(255,167,38,0.61)"/><path d="M1042 1357h8v18h-8zM1044 1359v14h4v-14z" fill="#c96c12" fill-rule="evenodd"/><rect x="1054" y="1339" width="2" height="16" fill="#e3e6ee"/><rect x="1054" y="1364" width="2" height="9" fill="#e3e6ee"/><path d="M1051 1355h8v9h-8zM1053 1357v5h4v-5z" fill="#fafafa" fill-rule="evenodd"/><rect x="1063" y="1412" width="2" height="13" fill="#e3e6ee"/><path d="M1060 1362h8v50h-8zM1062 1364v46h4v-46z" fill="#fafafa" fill-rule="evenodd"/><rect x="1072" y="1401" width="2" height="11" fill="#e3e6ee"/><rect x="1072" y="1440" width="2" height="36" fill="#e3e6ee"/><path d="M1069 1412h8v28h-8zM1071 1414v24h4v-24z" fill="#fafafa" fill-rule="evenodd"/><rect x="1081" y="1435" width="2" height="9" fill="#e3e6ee"/><rect x="1081" y="1457" width="2" height="5" fill="#e3e6ee"/><path d="M1078 1444h8v13h-8zM1080 1446v9h4v-9z" fill="#fafafa" fill-rule="evenodd"/><rect x="1090" y="1436" width="2" height="21" fill="#e3e6ee"/><rect x="1090" y="1475" width="2" height="3" fill="#e3e6ee"/><path d="M1087 1457h8v18h-8zM1089 1459v14h4v-14z" fill="#fafafa" fill-rule="evenodd"/><rect x="1099" y="1465" width="2" height="9" fill="#e3e6ee"/><rect x="1099" y="1507" width="2" height="13" fill="#e3e6ee"/><path d="M1096 1474h8v33h-8zM1098 1476v29h4v-29z" fill="#fafafa" fill-rule="evenodd"/><rect x="1108" y="1498" width="2" height="9" fill="#e3e6ee"/><rect x="1108" y="1550" width="2" height="3" fill="#e3e6ee"/><path d="M1105 1507h8v43h-8zM1107 1509v39h4v-39z" fill="#fafafa" fill-rule="evenodd"/><rect x="1116" y="1540" width="2" height="10" fill="#e3e6ee"/><rect x="1116" y="1555" width="2" height="20" fill="#e3e6ee"/><path d="M1113 1550h8v5h-8zM1115 1552v1h4v-1z" fill="#fafafa" fill-rule="evenodd"/><rect x="1125" y="1549" width="2" height="8" fill="#e3e6ee"/><rect x="1125" y="1652" width="2" height="50" fill="#e3e6ee"/><path d="M1122 1557h8v95h-8zM1124 1559v91h4v-91z" fill="#fafafa" fill-rule="evenodd"/><rect x="1134" y="1611" width="2" height="4" fill="#dc952f"/><rect x="1134" y="1653" width="2" height="23" fill="#dc952f"/><rect x="1133" y="1617" width="4" height="34" fill="rgba(255,167,38,0.61)"/><path d="M1131 1615h8v38h-8zM1133 1617v34h4v-34z" fill="#c96c12" fill-rule="evenodd"/><rect x="1143" y="1598" width="2" height="16" fill="#e3e6ee"/><rect x="1143" y="1640" width="2" height="9" fill="#e3e6ee"/><path d="M1140 1614h8v26h-8zM1142 1616v22h4v-22z" fill="#fafafa" fill-rule="evenodd"/><rect x="1152" y="1639" width="2" height="3" fill="#e3e6ee"/><rect x="1152" y="1700" width="2" height="8" fill="#e3e6ee"/><path d="M1149 1642h8v58h-8zM1151 1644v54h4v-54z" fill="#fafafa" fill-rule="evenodd"/><rect x="1161" y="1667" width="2" height="13" fill="#dc952f"/><rect x="1161" y="1702" width="2" height="57" fill="#dc952f"/><rect x="1160" y="1682" width="4" height="18" fill="rgba(255,167,38,0.61)"/><path d="M1158 1680h8v22h-8zM1160 1682v18h4v-18z" fill="#c96c12" fill-rule="evenodd"/><rect x="1170" y="1609" width="2" height="33" fill="#dc952f"/><rect x="1170" y="1679" width="2" height="20" fill="#dc952f"/><rect x="1169" y="1644" width="4" height="33" fill="rgba(255,167,38,0.61)"/><path d="M1167 1642h8v37h-8zM1169 1644v33h4v-33z" fill="#c96c12" fill-rule="evenodd"/><rect x="1179" y="1625" width="2" height="17" fill="#e3e6ee"/><rect x="1179" y="1690" width="2" height="9" fill="#e3e6ee"/><path d="M1176 1642h8v48h-8zM1178 1644v44h4v-44z" fill="#fafafa" fill-rule="evenodd"/><rect x="1188" y="1685" width="2" height="4" fill="#e3e6ee"/><rect x="1188" y="1731" width="2" height="5" fill="#e3e6ee"/><path d="M1185 1689h8v42h-8zM1187 1691v38h4v-38z" fill="#fafafa" fill-rule="evenodd"/><rect x="1197" y="1728" width="2" height="1" fill="#dc952f"/><rect x="1197" y="1733" width="2" height="18" fill="#dc952f"/><rect x="1194" y="1729" width="8" height="4" fill="#c96c12"/><rect x="1206" y="1676" width="2" height="52" fill="#e3e6ee"/><rect x="1206" y="1737" width="2" height="4" fill="#e3e6ee"/><path d="M1203 1728h8v9h-8zM1205 1730v5h4v-5z" fill="#fafafa" fill-rule="evenodd"/><rect x="1215" y="1777" width="2" height="24" fill="#e3e6ee"/><path d="M1212 1735h8v42h-8zM1214 1737v38h4v-38z" fill="#fafafa" fill-rule="evenodd"/><rect x="1224" y="1723" width="2" height="14" fill="#dc952f"/><rect x="1224" y="1777" width="2" height="44" fill="#dc952f"/><rect x="1223" y="1739" width="4" height="36" fill="rgba(255,167,38,0.61)"/><path d="M1221 1737h8v40h-8zM1223 1739v36h4v-36z" fill="#c96c12" fill-rule="evenodd"/><rect x="1233" y="1680" width="2" height="53" fill="#dc952f"/><rect x="1233" y="1737" width="2" height="18" fill="#dc952f"/><rect x="1230" y="1733" width="8" height="4" fill="#c96c12"/><rect x="1242" y="1679" width="2" height="54" fill="#e3e6ee"/><rect x="1242" y="1741" width="2" height="10" fill="#e3e6ee"/><path d="M1239 1733h8v8h-8zM1241 1735v4h4v-4z" fill="#fafafa" fill-rule="evenodd"/><rect x="1251" y="1667" width="2" height="40" fill="#dc952f"/><rect x="1251" y="1741" width="2" height="20" fill="#dc952f"/><rect x="1250" y="1709" width="4" height="30" fill="rgba(255,167,38,0.61)"/><path d="M1248 1707h8v34h-8zM1250 1709v30h4v-30z" fill="#c96c12" fill-rule="evenodd"/><rect x="1260" y="1682" width="2" height="27" fill="#e3e6ee"/><rect x="1260" y="1757" width="2" height="44" fill="#e3e6ee"/><path d="M1257 1709h8v48h-8zM1259 1711v44h4v-44z" fill="#fafafa" fill-rule="evenodd"/><rect x="1269" y="1750" width="2" height="11" fill="#e3e6ee"/><rect x="1269" y="1783" width="2" height="15" fill="#e3e6ee"/><path d="M1266 1761h8v22h-8zM1268 1763v18h4v-18z" fill="#fafafa" fill-rule="evenodd"/><rect x="1278" y="1698" width="2" height="45" fill="#dc952f"/><rect x="1278" y="1783" width="2" height="6" fill="#dc952f"/><rect x="1277" y="1745" width="4" height="36" fill="rgba(255,167,38,0.61)"/><path d="M1275 1743h8v40h-8zM1277 1745v36h4v-36z" fill="#c96c12" fill-rule="evenodd"/><rect x="1287" y="1711" width="2" height="32" fill="#e3e6ee"/><rect x="1287" y="1745" width="2" height="17" fill="#e3e6ee"/><rect x="1284" y="1743" width="8" height="2" fill="#fafafa"/><rect x="1296" y="1739" width="2" height="4" fill="#e3e6ee"/><rect x="1296" y="1778" width="2" height="5" fill="#e3e6ee"/><path d="M1293 1743h8v35h-8zM1295 1745v31h4v-31z" fill="#fafafa" fill-rule="evenodd"/><rect x="1305" y="1753" width="2" height="23" fill="#dc952f"/><rect x="1305" y="1779" width="2" height="4" fill="#dc952f"/><rect x="1302" y="1776" width="8" height="3" fill="#c96c12"/><rect x="1314" y="1737" width="2" height="20" fill="#dc952f"/><rect x="1314" y="1777" width="2" height="12" fill="#dc952f"/><rect x="1313" y="1759" width="4" height="16" fill="rgba(255,167,38,0.61)"/><path d="M1311 1757h8v20h-8zM1313 1759v16h4v-16z" fill="#c96c12" fill-rule="evenodd"/><rect x="1323" y="1754" width="2" height="2" fill="#e3e6ee"/><rect x="1323" y="1787" width="2" height="24" fill="#e3e6ee"/><path d="M1320 1756h8v31h-8zM1322 1758v27h4v-27z" fill="#fafafa" fill-rule="evenodd"/><rect x="1332" y="1623" width="2" height="12" fill="#dc952f"/><rect x="1332" y="1786" width="2" height="9" fill="#dc952f"/><rect x="1331" y="1637" width="4" height="147" fill="rgba(255,167,38,0.61)"/><path d="M1329 1635h8v151h-8zM1331 1637v147h4v-147z" fill="#c96c12" fill-rule="evenodd"/><rect x="1341" y="1569" width="2" height="66" fill="#e3e6ee"/><rect x="1341" y="1643" width="2" height="7" fill="#e3e6ee"/><path d="M1338 1635h8v8h-8zM1340 1637v4h4v-4z" fill="#fafafa" fill-rule="evenodd"/><rect x="1350" y="1493" width="2" height="13" fill="#dc952f"/><rect x="1350" y="1642" width="2" height="17" fill="#dc952f"/><rect x="1349" y="1508" width="4" height="132" fill="rgba(255,167,38,0.61)"/><path d="M1347 1506h8v136h-8zM1349 1508v132h4v-132z" fill="#c96c12" fill-rule="evenodd"/><rect x="1359" y="1553" width="2" height="35" fill="#e3e6ee"/><path d="M1356 1506h8v47h-8zM1358 1508v43h4v-43z" fill="#fafafa" fill-rule="evenodd"/><rect x="1368" y="1545" width="2" height="10" fill="#e3e6ee"/><path d="M1365 1555h8v61h-8zM1367 1557v57h4v-57z" fill="#fafafa" fill-rule="evenodd"/><rect x="1377" y="1556" width="2" height="27" fill="#dc952f"/><rect x="1377" y="1616" width="2" height="18" fill="#dc952f"/><rect x="1376" y="1585" width="4" height="29" fill="rgba(255,167,38,0.61)"/><path d="M1374 1583h8v33h-8zM1376 1585v29h4v-29z" fill="#c96c12" fill-rule="evenodd"/><rect x="1386" y="1566" width="2" height="13" fill="#e3e6ee"/><rect x="1386" y="1619" width="2" height="4" fill="#e3e6ee"/><path d="M1383 1579h8v40h-8zM1385 1581v36h4v-36z" fill="#fafafa" fill-rule="evenodd"/><rect x="1395" y="1564" width="2" height="47" fill="#dc952f"/><rect x="1395" y="1621" width="2" height="43" fill="#dc952f"/><rect x="1394" y="1613" width="4" height="6" fill="rgba(255,167,38,0.61)"/><path d="M1392 1611h8v10h-8zM1394 1613v6h4v-6z" fill="#c96c12" fill-rule="evenodd"/><rect x="1404" y="1508" width="2" height="26" fill="#dc952f"/><rect x="1404" y="1611" width="2" height="5" fill="#dc952f"/><rect x="1403" y="1536" width="4" height="73" fill="rgba(255,167,38,0.61)"/><path d="M1401 1534h8v77h-8zM1403 1536v73h4v-73z" fill="#c96c12" fill-rule="evenodd"/><rect x="1413" y="1506" width="2" height="26" fill="#e3e6ee"/><rect x="1413" y="1551" width="2" height="5" fill="#e3e6ee"/><path d="M1410 1532h8v19h-8zM1412 1534v15h4v-15z" fill="#fafafa" fill-rule="evenodd"/><rect x="1421" y="1498" width="2" height="49" fill="#e3e6ee"/><rect x="1421" y="1557" width="2" height="21" fill="#e3e6ee"/><path d="M1418 1547h8v10h-8zM1420 1549v6h4v-6z" fill="#fafafa" fill-rule="evenodd"/><rect x="1430" y="1525" width="2" height="9" fill="#dc952f"/><rect x="1430" y="1557" width="2" height="22" fill="#dc952f"/><rect x="1429" y="1536" width="4" height="19" fill="rgba(255,167,38,0.61)"/><path d="M1427 1534h8v23h-8zM1429 1536v19h4v-19z" fill="#c96c12" fill-rule="evenodd"/><rect x="1439" y="1440" width="2" height="33" fill="#dc952f"/><rect x="1439" y="1535" width="2" height="26" fill="#dc952f"/><rect x="1438" y="1475" width="4" height="58" fill="rgba(255,167,38,0.61)"/><path d="M1436 1473h8v62h-8zM1438 1475v58h4v-58z" fill="#c96c12" fill-rule="evenodd"/><rect x="1448" y="1409" width="2" height="66" fill="#e3e6ee"/><path d="M1445 1475h8v23h-8zM1447 1477v19h4v-19z" fill="#fafafa" fill-rule="evenodd"/><rect x="1457" y="1487" width="2" height="9" fill="#e3e6ee"/><rect x="1457" y="1518" width="2" height="85" fill="#e3e6ee"/><path d="M1454 1496h8v22h-8zM1456 1498v18h4v-18z" fill="#fafafa" fill-rule="evenodd"/><rect x="1466" y="1505" width="2" height="12" fill="#e3e6ee"/><rect x="1466" y="1523" width="2" height="36" fill="#e3e6ee"/><path d="M1463 1517h8v6h-8zM1465 1519v2h4v-2z" fill="#fafafa" fill-rule="evenodd"/><rect x="1475" y="1483" width="2" height="40" fill="#e3e6ee"/><rect x="1475" y="1537" width="2" height="10" fill="#e3e6ee"/><path d="M1472 1523h8v14h-8zM1474 1525v10h4v-10z" fill="#fafafa" fill-rule="evenodd"/><rect x="1484" y="1514" width="2" height="21" fill="#dc952f"/><rect x="1484" y="1538" width="2" height="30" fill="#dc952f"/><rect x="1481" y="1535" width="8" height="3" fill="#c96c12"/><rect x="1493" y="1486" width="2" height="46" fill="#e3e6ee"/><rect x="1493" y="1542" width="2" height="10" fill="#e3e6ee"/><path d="M1490 1532h8v10h-8zM1492 1534v6h4v-6z" fill="#fafafa" fill-rule="evenodd"/><rect x="1502" y="1477" width="2" height="16" fill="#dc952f"/><rect x="1502" y="1542" width="2" height="14" fill="#dc952f"/><rect x="1501" y="1495" width="4" height="45" fill="rgba(255,167,38,0.61)"/><path d="M1499 1493h8v49h-8zM1501 1495v45h4v-45z" fill="#c96c12" fill-rule="evenodd"/><rect x="1511" y="1459" width="2" height="25" fill="#dc952f"/><rect x="1511" y="1494" width="2" height="50" fill="#dc952f"/><rect x="1510" y="1486" width="4" height="6" fill="rgba(255,167,38,0.61)"/><path d="M1508 1484h8v10h-8zM1510 1486v6h4v-6z" fill="#c96c12" fill-rule="evenodd"/><rect x="1520" y="1418" width="2" height="59" fill="#dc952f"/><rect x="1519" y="1479" width="4" height="6" fill="rgba(255,167,38,0.61)"/><path d="M1517 1477h8v10h-8zM1519 1479v6h4v-6z" fill="#c96c12" fill-rule="evenodd"/><rect x="1529" y="1466" width="2" height="10" fill="#e3e6ee"/><rect x="1529" y="1528" width="2" height="54" fill="#e3e6ee"/><path d="M1526 1476h8v52h-8zM1528 1478v48h4v-48z" fill="#fafafa" fill-rule="evenodd"/><rect x="1538" y="1478" width="2" height="47" fill="#dc952f"/><rect x="1538" y="1527" width="2" height="22" fill="#dc952f"/><rect x="1535" y="1525" width="8" height="2" fill="#c96c12"/><rect x="1547" y="1481" width="2" height="3" fill="#dc952f"/><rect x="1547" y="1525" width="2" height="7" fill="#dc952f"/><rect x="1546" y="1486" width="4" height="37" fill="rgba(255,167,38,0.61)"/><path d="M1544 1484h8v41h-8zM1546 1486v37h4v-37z" fill="#c96c12" fill-rule="evenodd"/></g><rect x="427" y="1335" width="1614" height="69" fill="rgba(255,152,0,0.2)" shape-rendering="crispEdges"/><line x1="1431" y1="1476" x2="1620" y2="1476" stroke="#fff" stroke-width="2"/><line x1="1422.6" y1="1585.7" x2="1620" y2="1522" stroke="#fff" stroke-width="2"/><path d="M1523.6,1487.6C1524.13,1485.00 1525.50,1478.23 1526.8,1472C1528.10,1465.77 1529.58,1457.47 1531.4,1450.2C1533.22,1442.93 1535.62,1436.20 1537.7,1428.4C1539.78,1420.60 1542.18,1409.63 1543.9,1403.4C1545.62,1397.17 1546.70,1396.72 1548,1391C1549.30,1385.28 1550.05,1376.65 1551.7,1369.1C1553.35,1361.55 1556.23,1353.23 1557.9,1345.7C1559.57,1338.17 1560.40,1330.65 1561.7,1323.9C1563.00,1317.15 1564.35,1311.17 1565.7,1305.2C1567.05,1299.23 1568.50,1292.62 1569.8,1288.1C1571.10,1283.58 1572.37,1279.15 1573.5,1278.1C1574.63,1277.05 1575.30,1277.53 1576.6,1281.8C1577.90,1286.07 1580.00,1297.20 1581.3,1303.7C1582.60,1310.20 1583.37,1315.08 1584.4,1320.8C1585.43,1326.52 1586.45,1334.10 1587.5,1338C1588.55,1341.90 1589.50,1344.47 1590.7,1344.2C1591.90,1343.93 1593.52,1340.55 1594.7,1336.4C1595.88,1332.25 1596.23,1327.87 1597.8,1319.3C1599.37,1310.73 1602.02,1295.67 1604.1,1285C1606.18,1274.33 1608.12,1265.43 1610.3,1255.3C1612.48,1245.17 1614.75,1235.37 1617.2,1224.2C1619.65,1213.03 1622.57,1201.55 1625,1188.3C1627.43,1175.05 1630.10,1156.65 1631.8,1144.7C1633.50,1132.75 1634.27,1124.92 1635.2,1116.6C1636.13,1108.28 1636.77,1101.55 1637.4,1094.8C1638.03,1088.05 1638.73,1085.45 1639,1076.1C1639.27,1066.75 1639.00,1044.93 1639,1038.7" fill="none" stroke="#fff" stroke-width="2" stroke-linejoin="round" stroke-linecap="round"/><g font-family="'Liberation Sans', Arial, sans-serif"><text id="h1a" x="12.00" y="34.35" font-size="25.5" font-weight="bold" fill="#131722" textLength="86.52" lengthAdjust="spacingAndGlyphs">JJcycles</text><text id="h1b" x="105.50" y="34.35" font-size="25.5" fill="#131722" textLength="725.00" lengthAdjust="spacingAndGlyphs">published on TradingView.com, February 08, 2021 10:30:50 CET</text><text id="h2a" x="12.50" y="66.85" font-size="25.5" font-weight="bold" fill="#131722" textLength="247.01" lengthAdjust="spacingAndGlyphs">BINANCE:TRBBTC, 1D</text><text id="h2b" x="272.50" y="66.85" font-size="25.5" fill="#131722" textLength="102.06" lengthAdjust="spacingAndGlyphs">0.001008</text><text id="h2d" x="410.50" y="66.85" font-size="25.5" fill="#131722" textLength="210.02" lengthAdjust="spacingAndGlyphs">+0.000079 (+8.5%)</text><text id="h2e" x="628.50" y="66.85" font-size="25.5" font-weight="bold" fill="#131722" textLength="25.59" lengthAdjust="spacingAndGlyphs">O:</text><text id="h2f" x="657.00" y="66.85" font-size="25.5" fill="#26a69a" textLength="104.51" lengthAdjust="spacingAndGlyphs">0.000928</text><text id="h2g" x="770.00" y="66.85" font-size="25.5" font-weight="bold" fill="#131722" textLength="27.01" lengthAdjust="spacingAndGlyphs">H:</text><text id="h2h" x="797.50" y="66.85" font-size="25.5" fill="#26a69a" textLength="105.06" lengthAdjust="spacingAndGlyphs">0.001015</text><text id="h2i" x="912.50" y="66.85" font-size="25.5" font-weight="bold" fill="#131722" textLength="18.18" lengthAdjust="spacingAndGlyphs">L:</text><text id="h2j" x="934.00" y="66.85" font-size="25.5" fill="#26a69a" textLength="102.52" lengthAdjust="spacingAndGlyphs">0.000917</text><text id="h2k" x="1046.50" y="66.85" font-size="25.5" font-weight="bold" fill="#131722" textLength="22.28" lengthAdjust="spacingAndGlyphs">C:</text><text id="h2l" x="1070.50" y="66.85" font-size="25.5" fill="#26a69a" textLength="105.02" lengthAdjust="spacingAndGlyphs">0.001008</text><text id="logo" x="68.00" y="2156.65" font-size="25.5" fill="#131722" textLength="140.32" lengthAdjust="spacingAndGlyphs">TradingView</text><text id="p80.000000" x="3248.50" y="105.45" font-size="24" stroke="#ffffff" stroke-width="0.8" fill="#ffffff" textLength="107.51" lengthAdjust="spacingAndGlyphs">80.000000</text><text id="p40.000000" x="3248.50" y="196.45" font-size="24" stroke="#ffffff" stroke-width="0.8" fill="#ffffff" textLength="107.54" lengthAdjust="spacingAndGlyphs">40.000000</text><text id="p0.009500" x="3248.50" y="300.16" font-size="24" stroke="#ffffff" stroke-width="0.8" fill="#ffffff" textLength="95.53" lengthAdjust="spacingAndGlyphs">0.009500</text><text id="p0.008500" x="3248.50" y="360.95" font-size="24" stroke="#ffffff" stroke-width="0.8" fill="#ffffff" textLength="95.53" lengthAdjust="spacingAndGlyphs">0.008500</text><text id="p0.007500" x="3248.50" y="428.95" font-size="24" stroke="#ffffff" stroke-width="0.8" fill="#ffffff" textLength="95.53" lengthAdjust="spacingAndGlyphs">0.007500</text><text id="p0.006500" x="3248.50" y="507.45" font-size="24" stroke="#ffffff" stroke-width="0.8" fill="#ffffff" textLength="95.53" lengthAdjust="spacingAndGlyphs">0.006500</text><text id="p0.005500" x="3248.50" y="597.95" font-size="24" stroke="#ffffff" stroke-width="0.8" fill="#ffffff" textLength="95.53" lengthAdjust="spacingAndGlyphs">0.005500</text><text id="p0.004900" x="3248.50" y="661.45" font-size="24" stroke="#ffffff" stroke-width="0.8" fill="#ffffff" textLength="95.53" lengthAdjust="spacingAndGlyphs">0.004900</text><text id="p0.004300" x="3248.50" y="730.45" font-size="24" stroke="#ffffff" stroke-width="0.8" fill="#ffffff" textLength="95.53" lengthAdjust="spacingAndGlyphs">0.004300</text><text id="p0.003700" x="3248.50" y="810.95" font-size="24" stroke="#ffffff" stroke-width="0.8" fill="#ffffff" textLength="95.53" lengthAdjust="spacingAndGlyphs">0.003700</text><text id="p0.003300" x="3248.50" y="873.95" font-size="24" stroke="#ffffff" stroke-width="0.8" fill="#ffffff" textLength="95.53" lengthAdjust="spacingAndGlyphs">0.003300</text><text id="p0.002900" x="3248.50" y="942.95" font-size="24" stroke="#ffffff" stroke-width="0.8" fill="#ffffff" textLength="95.53" lengthAdjust="spacingAndGlyphs">0.002900</text><text id="p0.002500" x="3248.50" y="1021.45" font-size="24" stroke="#ffffff" stroke-width="0.8" fill="#ffffff" textLength="95.53" lengthAdjust="spacingAndGlyphs">0.002500</text><text id="p0.002200" x="3248.50" y="1089.45" font-size="24" stroke="#ffffff" stroke-width="0.8" fill="#ffffff" textLength="95.53" lengthAdjust="spacingAndGlyphs">0.002200</text><text id="p0.001900" x="3248.50" y="1166.45" font-size="24" stroke="#ffffff" stroke-width="0.8" fill="#ffffff" textLength="95.53" lengthAdjust="spacingAndGlyphs">0.001900</text><text id="p0.001600" x="3248.50" y="1255.45" font-size="24" stroke="#ffffff" stroke-width="0.8" fill="#ffffff" textLength="95.53" lengthAdjust="spacingAndGlyphs">0.001600</text><text id="p0.001400" x="3248.50" y="1326.45" font-size="24" stroke="#ffffff" stroke-width="0.8" fill="#ffffff" textLength="95.53" lengthAdjust="spacingAndGlyphs">0.001400</text><text id="p0.001200" x="3248.50" y="1405.45" font-size="24" stroke="#ffffff" stroke-width="0.8" fill="#ffffff" textLength="95.53" lengthAdjust="spacingAndGlyphs">0.001200</text><text id="p0.001050" x="3248.50" y="1472.05" font-size="24" stroke="#ffffff" stroke-width="0.8" fill="#ffffff" textLength="95.53" lengthAdjust="spacingAndGlyphs">0.001050</text><text id="p0.000900" x="3248.50" y="1550.95" font-size="24" stroke="#ffffff" stroke-width="0.8" fill="#ffffff" textLength="95.53" lengthAdjust="spacingAndGlyphs">0.000900</text><text id="p0.000750" x="3248.50" y="1640.45" font-size="24" stroke="#ffffff" stroke-width="0.8" fill="#ffffff" textLength="95.53" lengthAdjust="spacingAndGlyphs">0.000750</text><text id="p0.000650" x="3248.50" y="1710.45" font-size="24" stroke="#ffffff" stroke-width="0.8" fill="#ffffff" textLength="95.53" lengthAdjust="spacingAndGlyphs">0.000650</text><text id="p0.000570" x="3248.50" y="1772.16" font-size="24" stroke="#ffffff" stroke-width="0.8" fill="#ffffff" textLength="95.53" lengthAdjust="spacingAndGlyphs">0.000570</text><text id="p0.000500" x="3248.50" y="1832.76" font-size="24" stroke="#ffffff" stroke-width="0.8" fill="#ffffff" textLength="95.53" lengthAdjust="spacingAndGlyphs">0.000500</text><text id="p0.000430" x="3248.50" y="1901.99" font-size="24" stroke="#ffffff" stroke-width="0.8" fill="#ffffff" textLength="95.53" lengthAdjust="spacingAndGlyphs">0.000430</text><text id="p0.000375" x="3248.50" y="1962.15" font-size="24" stroke="#ffffff" stroke-width="0.8" fill="#ffffff" textLength="95.53" lengthAdjust="spacingAndGlyphs">0.000375</text><text id="p0.000325" x="3248.50" y="2024.25" font-size="24" stroke="#ffffff" stroke-width="0.8" fill="#ffffff" textLength="95.53" lengthAdjust="spacingAndGlyphs">0.000325</text><text id="tSep" x="94.00" y="2091.65" font-size="24.5" fill="#ffffff" textLength="37.66" lengthAdjust="spacingAndGlyphs">Sep</text><text id="tOct" x="363.00" y="2091.65" font-size="24.5" fill="#ffffff" textLength="37.11" lengthAdjust="spacingAndGlyphs">Oct</text><text id="tNov" x="639.50" y="2091.65" font-size="24.5" fill="#ffffff" textLength="39.59" lengthAdjust="spacingAndGlyphs">Nov</text><text id="tDec" x="908.00" y="2091.65" font-size="24.5" fill="#ffffff" textLength="40.16" lengthAdjust="spacingAndGlyphs">Dec</text><text id="tFeb" x="1464.50" y="2091.65" font-size="24.5" fill="#ffffff" textLength="39.09" lengthAdjust="spacingAndGlyphs">Feb</text><text id="tMar" x="1715.50" y="2091.65" font-size="24.5" fill="#ffffff" textLength="39.70" lengthAdjust="spacingAndGlyphs">Mar</text><text id="tApr" x="1996.50" y="2091.65" font-size="24.5" fill="#ffffff" textLength="34.61" lengthAdjust="spacingAndGlyphs">Apr</text><text id="tMay" x="2261.50" y="2091.65" font-size="24.5" fill="#ffffff" textLength="42.06" lengthAdjust="spacingAndGlyphs">May</text><text id="tJun" x="2543.00" y="2091.65" font-size="24.5" fill="#ffffff" textLength="36.61" lengthAdjust="spacingAndGlyphs">Jun</text><text id="tJul" x="2815.00" y="2091.65" font-size="24.5" fill="#ffffff" textLength="31.09" lengthAdjust="spacingAndGlyphs">Jul</text><text id="tAug" x="3089.50" y="2091.65" font-size="24.5" fill="#ffffff" textLength="38.00" lengthAdjust="spacingAndGlyphs">Aug</text><text id="t2021" x="1180.00" y="2091.65" font-size="24.5" font-weight="bold" fill="#ffffff" textLength="52.69" lengthAdjust="spacingAndGlyphs">2021</text></g><rect x="3273" y="278.2" width="57.7" height="37.5" rx="7" fill="#252c49" stroke="#3a3d4b" stroke-width="1.6"/><g shape-rendering="crispEdges"><rect x="3170" y="127" width="58" height="36" fill="#f57c00"/><rect x="3230" y="127" width="144" height="36" fill="#f57c00"/><rect x="3120" y="1466" width="108" height="36" fill="#ffa726"/><rect x="3230" y="1466" width="132" height="36" fill="#ffa726"/><rect x="3124" y="2011" width="104" height="36" fill="#f57c00"/><rect x="3230" y="2011" width="120" height="36" fill="#f57c00"/></g><polygon points="382.1,66.8 401.9,66.8 392,46.9" fill="#26a69a"/><g font-family="'Liberation Sans', Arial, sans-serif"><text id="rsiA" x="3186.50" y="152.65" font-size="24.5" fill="#ffffff" textLength="31.15" lengthAdjust="spacingAndGlyphs">RSI</text><text id="rsiD" x="3229.30" y="150.85" font-size="24.5" fill="#ffffff" textLength="9.40" lengthAdjust="spacingAndGlyphs">-</text><text id="rsiV" x="3249.50" y="152.65" font-size="24.5" fill="#ffffff" textLength="107.53" lengthAdjust="spacingAndGlyphs">58.742704</text><text id="trbA" x="3136.50" y="1491.15" font-size="24.5" fill="#000000" textLength="82.53" lengthAdjust="spacingAndGlyphs">TRBBTC</text><text id="trbD" x="3229.30" y="1489.35" font-size="24.5" fill="#000000" textLength="9.40" lengthAdjust="spacingAndGlyphs">-</text><text id="trbV" x="3247.50" y="1491.15" font-size="24.5" fill="#000000" textLength="96.05" lengthAdjust="spacingAndGlyphs">0.001008</text><text id="volA" x="3141.50" y="2037.15" font-size="24.5" fill="#ffffff" textLength="76.52" lengthAdjust="spacingAndGlyphs">Volume</text><text id="volD" x="3229.30" y="2035.35" font-size="24.5" fill="#ffffff" textLength="9.40" lengthAdjust="spacingAndGlyphs">-</text><text id="volV" x="3249.00" y="2037.15" font-size="24.5" fill="#ffffff" textLength="83.93" lengthAdjust="spacingAndGlyphs">11.326K</text><text id="btc" x="3281.60" y="304.55" font-size="24.5" stroke="#ffffff" stroke-width="0.8" fill="#ffffff" textLength="40.45" lengthAdjust="spacingAndGlyphs">BTC</text></g><g fill="#2196f3"><circle cx="22" cy="2153.5" r="9.6"/><circle cx="34.2" cy="2145" r="12"/><circle cx="51" cy="2149.2" r="8"/><circle cx="57" cy="2156.4" r="6.9"/><rect x="22" y="2148" width="35" height="15.3"/></g><path d="M11 2161 L31.7 2144.6 L44 2156 L58.5 2141.2" fill="none" stroke="#fff" stroke-width="2.3"/><circle cx="31.7" cy="2144.6" r="3.9" fill="#fff"/><circle cx="44" cy="2156" r="3.9" fill="#fff"/></svg>
</body></html>
